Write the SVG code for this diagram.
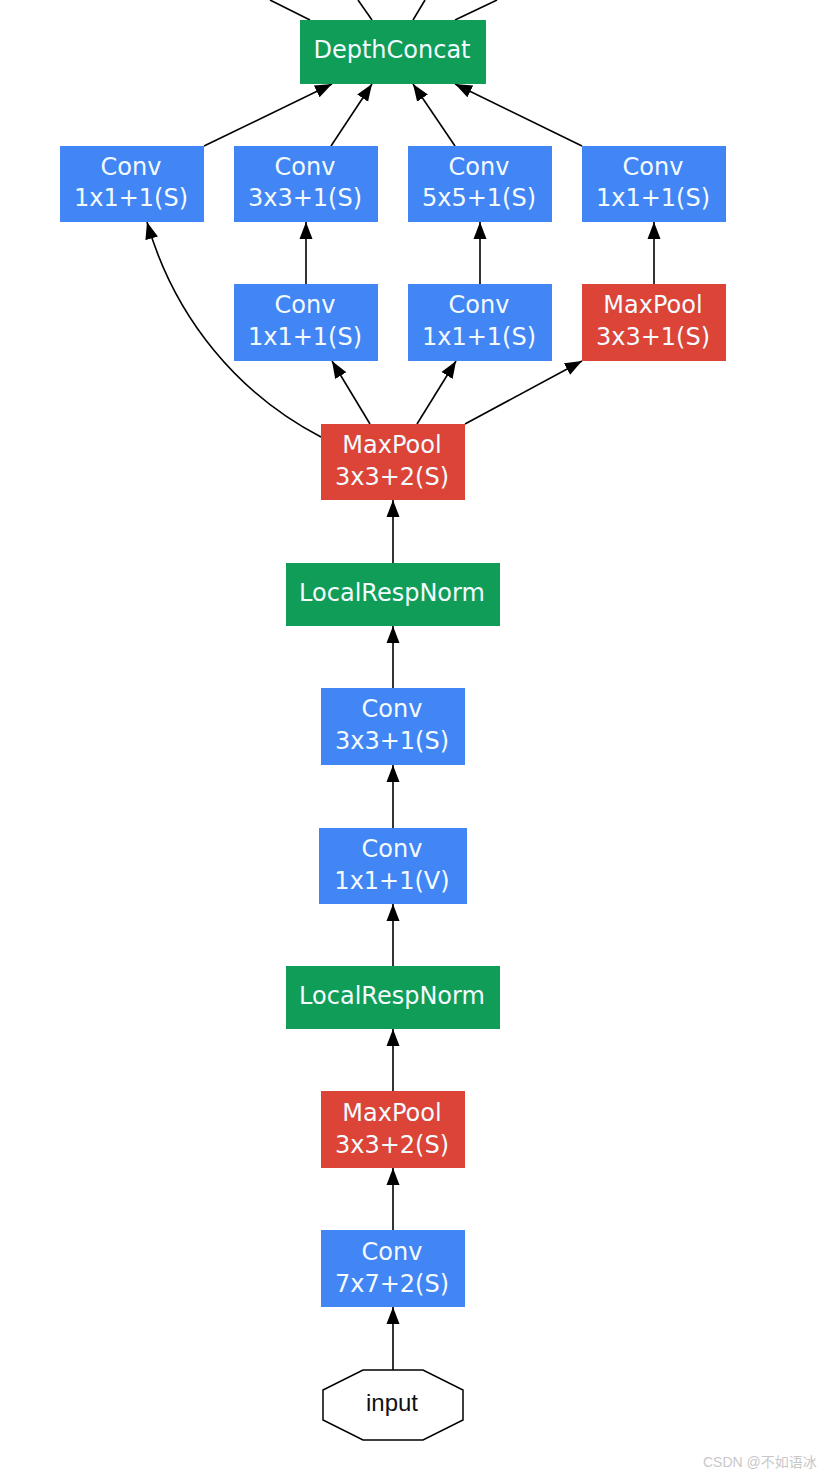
<svg xmlns="http://www.w3.org/2000/svg" width="831" height="1477" viewBox="0 0 831 1477">
<defs>
<marker id="arr" markerUnits="userSpaceOnUse" markerWidth="18" markerHeight="14" refX="17" refY="7" orient="auto">
<path d="M0,0.5 L17,7 L0,13.5 z" fill="#000"/>
</marker>
<style>
.blue{fill:#4285F4}
.red{fill:#DB4437}
.green{fill:#0F9D58}
.t{font-family:"DejaVu Sans",sans-serif;font-size:24px;fill:#F4FBFF;text-anchor:middle}
.e{stroke:#000;stroke-width:1.6;fill:none}
.a{marker-end:url(#arr)}
</style>
</defs>
<rect width="831" height="1477" fill="#fff"/>
<g id="edges">
<line class="e" x1="270" y1="0" x2="310" y2="20"/>
<line class="e" x1="358" y1="0" x2="372" y2="20"/>
<line class="e" x1="425" y1="0" x2="413" y2="20"/>
<line class="e" x1="497" y1="0" x2="455" y2="20"/>
<line class="e a" x1="204" y1="146" x2="332" y2="84"/>
<line class="e a" x1="331" y1="146" x2="372" y2="84"/>
<line class="e a" x1="455" y1="146" x2="413" y2="84"/>
<line class="e a" x1="582" y1="146" x2="455" y2="84"/>
<line class="e a" x1="306" y1="284" x2="306" y2="222"/>
<line class="e a" x1="480" y1="284" x2="480" y2="222"/>
<line class="e a" x1="654" y1="284" x2="654" y2="222"/>
<line class="e a" x1="370" y1="424" x2="332" y2="361"/>
<line class="e a" x1="417" y1="424" x2="456" y2="361"/>
<line class="e a" x1="465" y1="424" x2="582" y2="361"/>
<path class="e a" d="M321,437 C240,395 175,320 147,222"/>
<line class="e a" x1="393" y1="563" x2="393" y2="500"/>
<line class="e a" x1="393" y1="688" x2="393" y2="626"/>
<line class="e a" x1="393" y1="828" x2="393" y2="765"/>
<line class="e a" x1="393" y1="966" x2="393" y2="904"/>
<line class="e a" x1="393" y1="1091" x2="393" y2="1029"/>
<line class="e a" x1="393" y1="1230" x2="393" y2="1168"/>
<line class="e a" x1="393" y1="1370" x2="393" y2="1307"/>
</g>
<g id="depthconcat"><rect class="green" x="300" y="20" width="186" height="64"/><text class="t" x="392" y="58">DepthConcat</text></g>
<g id="conv_a1"><rect class="blue" x="60" y="146" width="144" height="76"/><text class="t" x="131" y="175">Conv</text><text class="t" x="131" y="206">1x1+1(S)</text></g>
<g id="conv_b1"><rect class="blue" x="234" y="146" width="144" height="76"/><text class="t" x="305" y="175">Conv</text><text class="t" x="305" y="206">3x3+1(S)</text></g>
<g id="conv_c1"><rect class="blue" x="408" y="146" width="144" height="76"/><text class="t" x="479" y="175">Conv</text><text class="t" x="479" y="206">5x5+1(S)</text></g>
<g id="conv_d1"><rect class="blue" x="582" y="146" width="144" height="76"/><text class="t" x="653" y="175">Conv</text><text class="t" x="653" y="206">1x1+1(S)</text></g>
<g id="conv_b0"><rect class="blue" x="234" y="284" width="144" height="77"/><text class="t" x="305" y="313">Conv</text><text class="t" x="305" y="345">1x1+1(S)</text></g>
<g id="conv_c0"><rect class="blue" x="408" y="284" width="144" height="77"/><text class="t" x="479" y="313">Conv</text><text class="t" x="479" y="345">1x1+1(S)</text></g>
<g id="maxpool_d0"><rect class="red" x="582" y="284" width="144" height="77"/><text class="t" x="653" y="313">MaxPool</text><text class="t" x="653" y="345">3x3+1(S)</text></g>
<g id="maxpool2"><rect class="red" x="321" y="424" width="144" height="76"/><text class="t" x="392" y="453">MaxPool</text><text class="t" x="392" y="485">3x3+2(S)</text></g>
<g id="lrn2"><rect class="green" x="286" y="563" width="214" height="63"/><text class="t" x="392" y="601">LocalRespNorm</text></g>
<g id="conv3"><rect class="blue" x="321" y="688" width="144" height="77"/><text class="t" x="392" y="717">Conv</text><text class="t" x="392" y="749">3x3+1(S)</text></g>
<g id="conv2"><rect class="blue" x="319" y="828" width="148" height="76"/><text class="t" x="392" y="857">Conv</text><text class="t" x="392" y="889">1x1+1(V)</text></g>
<g id="lrn1"><rect class="green" x="286" y="966" width="214" height="63"/><text class="t" x="392" y="1004">LocalRespNorm</text></g>
<g id="maxpool1"><rect class="red" x="321" y="1091" width="144" height="77"/><text class="t" x="392" y="1121">MaxPool</text><text class="t" x="392" y="1153">3x3+2(S)</text></g>
<g id="conv1"><rect class="blue" x="321" y="1230" width="144" height="77"/><text class="t" x="392" y="1260">Conv</text><text class="t" x="392" y="1292">7x7+2(S)</text></g>
<g id="input"><polygon points="323,1390 363,1370 423,1370 463,1390 463,1420 423,1440 363,1440 323,1420" fill="#fff" stroke="#000" stroke-width="1.5"/><text x="392" y="1411" font-family="'Liberation Sans',sans-serif" font-size="24" text-anchor="middle" fill="#111">input</text></g>
<text x="703" y="1467" font-family="'Liberation Sans','Noto Sans CJK SC',sans-serif" font-size="14" fill="#c8c8c8">CSDN @不如语冰</text>
</svg>
